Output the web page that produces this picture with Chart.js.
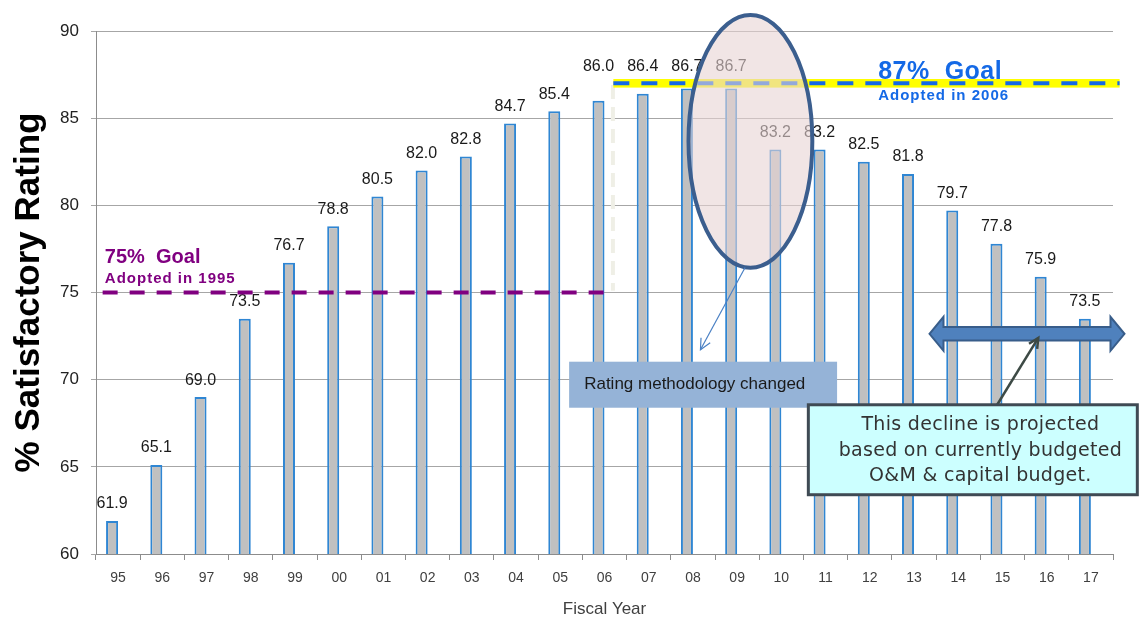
<!DOCTYPE html>
<html>
<head>
<meta charset="utf-8">
<script src="https://cdn.jsdelivr.net/npm/chart.js@4"></script>
<style>
    html, body { margin: 0; padding: 0; background: #fff; }
    #wrap { width: 1139px; height: 624px; }
</style>
</head>
<body>
<div id="wrap"><canvas id="chart" width="1139" height="624"></canvas></div>
<script>
// 회계연도 / 만족 등급 비율
const years = ['95', '96', '97', '98', '99', '00', '01', '02', '03', '04', '05', '06',
               '07', '08', '09', '10', '11', '12', '13', '14', '15', '16', '17'];
const ratings = [61.9, 65.1, 69.0, 73.5, 76.7, 78.8, 80.5, 82.0, 82.8, 84.7, 85.4, 86.0,
                 86.4, 86.7, 86.7, 83.2, 83.2, 82.5, 81.8, 79.7, 77.8, 75.9, 73.5];
const yTicks = [60, 65, 70, 75, 80, 85, 90];
const goalOld = 75;
const goalNew = 87;

/* -------------------- 막대 위 숫자 -------------------- */

const valueLabels = {
    id: 'valueLabels',
    afterDatasetsDraw(chart) {
        const { ctx, scales: { y } } = chart;
        const meta = chart.getDatasetMeta(0);
        const bandTop = y.getPixelForValue(goalNew) - 17; // 목표선과 겹치는 숫자는 위로 올림
        ctx.save();
        ctx.font = '16px "Liberation Sans", Arial, sans-serif';
        ctx.fillStyle = '#1a1a1a';
        ctx.textAlign = 'center';
        ctx.textBaseline = 'middle';
        meta.data.forEach((bar, i) => {
            let ly = bar.y - 17;
            if (ratings[i] >= 86) ly = Math.min(ly, bandTop);
            ctx.fillText(ratings[i].toFixed(1), bar.x, ly);
        });
        ctx.restore();
    }
};

/* -------------------- 목표선, 주석 -------------------- */

function arrowHead(ctx, x1, y1, x2, y2, size) {
    const a = Math.atan2(y2 - y1, x2 - x1);
    ctx.beginPath();
    ctx.moveTo(x2 - size * Math.cos(a - 0.45), y2 - size * Math.sin(a - 0.45));
    ctx.lineTo(x2, y2);
    ctx.lineTo(x2 - size * Math.cos(a + 0.45), y2 - size * Math.sin(a + 0.45));
    ctx.stroke();
}

const goalNotes = {
    id: 'goalNotes',
    beforeDatasetsDraw(chart) {
        const { ctx, chartArea, scales: { y } } = chart;
        const cw = (chartArea.right - chartArea.left) / years.length;
        const xAt = f => chartArea.left + (f + 0.5) * cw;
        ctx.save();
        // 방법 변경 경계 (흰 점선)
        ctx.strokeStyle = '#efefe6';
        ctx.lineWidth = 4;
        ctx.setLineDash([14, 8]);
        ctx.beginPath();
        ctx.moveTo(xAt(11.19), y.getPixelForValue(86.9));
        ctx.lineTo(xAt(11.19), y.getPixelForValue(75.1));
        ctx.stroke();
        ctx.restore();
    },
    afterDraw(chart) {
        const { ctx, chartArea, scales: { y } } = chart;
        const cw = (chartArea.right - chartArea.left) / years.length;
        const xAt = f => chartArea.left + (f + 0.5) * cw;
        const yAt = v => y.getPixelForValue(v);
        ctx.save();

        // 75% 목표
        ctx.strokeStyle = '#800080';
        ctx.lineWidth = 4;
        ctx.setLineDash([15, 12]);
        ctx.beginPath();
        ctx.moveTo(xAt(-0.35), yAt(goalOld));
        ctx.lineTo(xAt(11.15), yAt(goalOld));
        ctx.stroke();
        ctx.setLineDash([]);
        ctx.fillStyle = '#800080';
        ctx.textAlign = 'left';
        ctx.textBaseline = 'alphabetic';
        ctx.font = 'bold 20px "Liberation Sans", Arial, sans-serif';
        ctx.fillText('75%  Goal', xAt(-0.3), yAt(76.7));
        ctx.letterSpacing = '1px';
        ctx.font = 'bold 15px "Liberation Sans", Arial, sans-serif';
        ctx.fillText('Adopted in 1995', xAt(-0.3), yAt(75.55));
        ctx.letterSpacing = '0px';

        // 87% 목표
        const gy = yAt(goalNew);
        ctx.fillStyle = '#ffff00';
        ctx.fillRect(xAt(11.2), gy - 4.3, xAt(22.65) - xAt(11.2), 8.6);
        ctx.strokeStyle = '#1469e6';
        ctx.lineWidth = 4;
        ctx.setLineDash([16, 12]);
        ctx.beginPath();
        ctx.moveTo(xAt(11.2), gy);
        ctx.lineTo(xAt(22.65), gy);
        ctx.stroke();
        ctx.setLineDash([]);
        ctx.fillStyle = '#1469e6';
        ctx.font = 'bold 25px "Liberation Sans", Arial, sans-serif';
        ctx.letterSpacing = '0.5px';
        ctx.fillText('87%  Goal', xAt(17.19), yAt(87.25));
        ctx.letterSpacing = '1px';
        ctx.font = 'bold 15px "Liberation Sans", Arial, sans-serif';
        ctx.fillText('Adopted in 2006', xAt(17.19), yAt(86.05));
        ctx.letterSpacing = '0px';

        // 타원 강조
        ctx.beginPath();
        ctx.ellipse(xAt(14.3), yAt(83.67), 1.4 * cw, yAt(60) - yAt(67.25), 0, 0, Math.PI * 2);
        ctx.fillStyle = 'rgba(232, 212, 212, 0.6)';
        ctx.fill();
        ctx.strokeStyle = '#3b5e8e';
        ctx.lineWidth = 4;
        ctx.stroke();

        // 타원 -> 상자 화살표
        ctx.strokeStyle = '#4a80c4';
        ctx.lineWidth = 1.2;
        const ax1 = xAt(14.18), ay1 = yAt(76.43), ax2 = xAt(13.17), ay2 = yAt(71.72);
        ctx.beginPath();
        ctx.moveTo(ax1, ay1);
        ctx.lineTo(ax2, ay2);
        ctx.stroke();
        arrowHead(ctx, ax1, ay1, ax2, ay2, 12);

        // Rating methodology changed 상자
        const bx1 = xAt(10.2), bx2 = xAt(16.26), by1 = yAt(71.03), by2 = yAt(68.39);
        ctx.fillStyle = '#95b3d7';
        ctx.fillRect(bx1, by1, bx2 - bx1, by2 - by1);
        ctx.fillStyle = '#1a1a1a';
        ctx.font = '17px "Liberation Sans Narrow", "Liberation Sans", Arial, sans-serif';
        ctx.textBaseline = 'middle';
        ctx.fillText('Rating methodology changed', xAt(10.54), (by1 + by2) / 2);

        // 양방향 화살표 (전망 구간)
        const dl = xAt(18.35), dr = xAt(22.76), dy = yAt(72.63);
        const sh = 6.7, hh = 17, hl = 14;
        ctx.beginPath();
        ctx.moveTo(dl, dy);
        ctx.lineTo(dl + hl, dy - hh);
        ctx.lineTo(dl + hl, dy - sh);
        ctx.lineTo(dr - hl, dy - sh);
        ctx.lineTo(dr - hl, dy - hh);
        ctx.lineTo(dr, dy);
        ctx.lineTo(dr - hl, dy + hh);
        ctx.lineTo(dr - hl, dy + sh);
        ctx.lineTo(dl + hl, dy + sh);
        ctx.lineTo(dl + hl, dy + hh);
        ctx.closePath();
        ctx.fillStyle = '#4f81bd';
        ctx.fill();
        ctx.strokeStyle = '#385d8a';
        ctx.lineWidth = 2;
        ctx.stroke();

        // 설명 상자 -> 화살표 연결선
        const px1 = xAt(19.88), py1 = yAt(68.56), px2 = xAt(20.81), py2 = yAt(72.4);
        ctx.strokeStyle = '#3d4a45';
        ctx.lineWidth = 2.5;
        ctx.beginPath();
        ctx.moveTo(px1, py1);
        ctx.lineTo(px2, py2);
        ctx.stroke();
        arrowHead(ctx, px1, py1, px2, py2, 11);

        // 설명 상자
        const cx1 = xAt(15.61), cx2 = xAt(23.05), cy1 = yAt(68.56), cy2 = yAt(63.4);
        ctx.fillStyle = '#ccffff';
        ctx.fillRect(cx1, cy1, cx2 - cx1, cy2 - cy1);
        ctx.strokeStyle = '#3f4a54';
        ctx.lineWidth = 3;
        ctx.strokeRect(cx1, cy1, cx2 - cx1, cy2 - cy1);
        ctx.fillStyle = '#333333';
        ctx.font = '19px "DejaVu Sans", Verdana, sans-serif';
        ctx.letterSpacing = '0.3px';
        ctx.textAlign = 'center';
        const tx = xAt(19.5);
        ctx.fillText('This decline is projected', tx, yAt(67.42));
        ctx.fillText('based on currently budgeted', tx, yAt(65.93));
        ctx.fillText('O&M & capital budget.', tx, yAt(64.49));
        ctx.letterSpacing = '0px';

        ctx.restore();
    }
};

new Chart(document.getElementById('chart'), {
    type: 'bar',
    data: {
        labels: years,
        datasets: [
            {
                data: ratings,
                backgroundColor: '#c0c0c0',
                borderColor: '#2f86d3',
                borderWidth: { top: 2, left: 2, right: 2, bottom: 0 },
                borderSkipped: false,
                barPercentage: 1,
                categoryPercentage: 0.543
            },
            {
                // 빈 계열: 막대를 눈금 왼쪽으로 밀어주는 자리
                data: years.map(() => null),
                backgroundColor: 'rgba(0,0,0,0)',
                barPercentage: 1,
                categoryPercentage: 0.543
            }
        ]
    },
    options: {
        responsive: false,
        animation: false,
        devicePixelRatio: 1,
        layout: { padding: { top: 31, right: 26, left: 0, bottom: 0 } },
        plugins: {
            legend: { display: false },
            tooltip: { enabled: false }
        },
        scales: {
            x: {
                grid: { display: true, drawOnChartArea: false, drawTicks: true, tickLength: 6, color: '#8c8c8c' },
                border: { display: true, color: '#8c8c8c', width: 1 },
                ticks: {
                    color: '#404040',
                    font: { size: 14, family: '"Liberation Sans", Arial, sans-serif' },
                    padding: 10,
                    maxRotation: 0
                },
                title: {
                    display: true,
                    text: 'Fiscal Year',
                    color: '#404040',
                    font: { size: 17, family: '"Liberation Sans", Arial, sans-serif' },
                    padding: { top: 4, bottom: 4 }
                },
                afterFit(scale) { scale.height = 70; }
            },
            y: {
                min: 60,
                max: 90,
                afterBuildTicks(scale) { scale.ticks = yTicks.map(v => ({ value: v })); },
                grid: { color: '#a6a6a6', lineWidth: 1, tickLength: 5 },
                border: { display: true, color: '#8c8c8c', width: 1 },
                ticks: {
                    color: '#222222',
                    font: { size: 17, family: '"Liberation Sans", Arial, sans-serif' },
                    padding: 12
                },
                title: {
                    display: true,
                    text: '% Satisfactory Rating',
                    color: '#000000',
                    font: { size: 35, weight: 'bold', family: '"Liberation Sans", Arial, sans-serif' },
                    padding: { top: 8, bottom: 0 }
                },
                afterFit(scale) { scale.width = 96; }
            }
        }
    },
    plugins: [valueLabels, goalNotes]
});
</script>
</body>
</html>
